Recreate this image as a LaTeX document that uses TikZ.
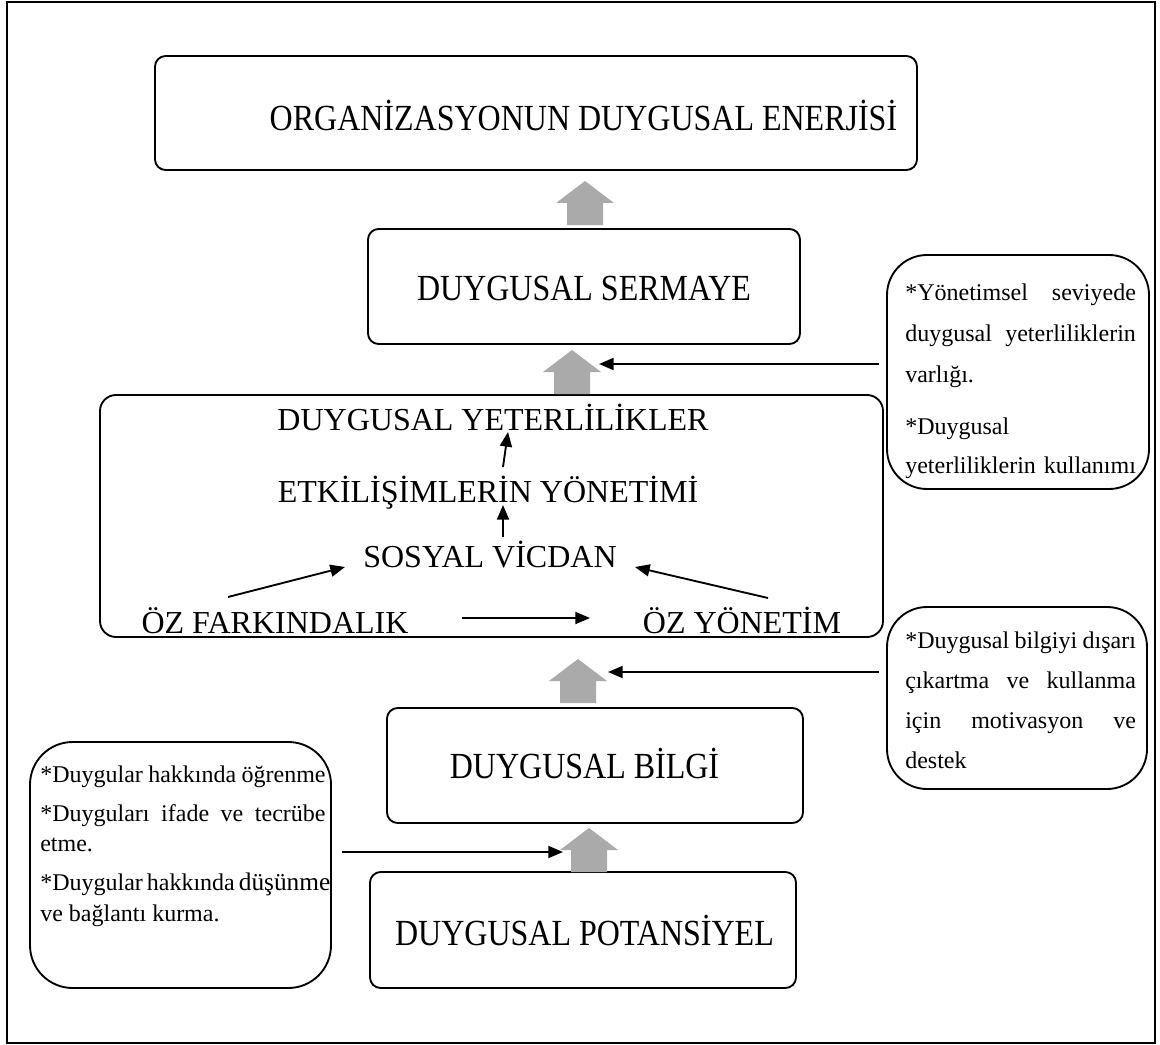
\documentclass[tikz,border=0pt]{standalone}
\usepackage{fontspec}
\usepackage{graphicx}
\setmainfont{Liberation Serif}
\usetikzlibrary{arrows.meta}

\definecolor{arrowgray}{RGB}{170,170,170}

% level titles are set slightly taller than wide
\newcommand\tallcaps[1]{\scalebox{1}[1.15]{#1}}

\tikzset{
  frame/.style={draw, line width=1.5pt},
  box/.style={draw, line width=1.4pt, rounded corners=8pt, inner sep=0pt, outer sep=0pt},
  label/.style={font=\fontsize{24}{26}\selectfont, inner sep=0pt, anchor=base},
  sidetext/.style={font=\fontsize{18}{22}\selectfont, inner sep=0pt, anchor=base west},
  conn/.style={line width=1.4pt, -{Triangle[length=11pt,width=9pt]}},
  grayup/.pic={\fill[arrowgray] (0,0) -- (29,22) -- (18,22) -- (18,44) -- (-18,44) -- (-18,22) -- (-29,22) -- cycle;}
}

\begin{document}
\begin{tikzpicture}[x=0.75pt,y=-0.75pt]
\useasboundingbox (0,0) rectangle (1160,1045);
\draw[frame] (7,2) rectangle (1155,1043);

% main stack of boxes
\node[box, minimum width=571.5pt, minimum height=85.5pt] (org) at (536,113) {};
\node[label] (orgt) at (583.5,131) {\tallcaps{ORGANİZASYONUN DUYGUSAL ENERJİSİ}};

\node[box, minimum width=324pt, minimum height=86.25pt] (serm) at (584,286.5) {};
\node[label] (sermt) at (584,300) {\tallcaps{DUYGUSAL SERMAYE}};

\node[box, rounded corners=12pt, minimum width=587.25pt, minimum height=181.5pt] (comp) at (491.5,516) {};
\node[label] (dy) at (493,430) {DUYGUSAL YETERLİLİKLER};
\node[label] (etk) at (488,502) {ETKİLİŞİMLERİN YÖNETİMİ};
\node[label] (sv) at (490,567) {SOSYAL VİCDAN};
\node[label] (ozf) at (275,633) {ÖZ FARKINDALIK};
\node[label] (ozy) at (742,633) {ÖZ YÖNETİM};

\node[box, minimum width=312pt, minimum height=86.25pt] (bilgi) at (595,765.5) {};
\node[label] (bilgit) at (584.5,778) {\tallcaps{DUYGUSAL BİLGİ}};

\node[box, minimum width=319.5pt, minimum height=87pt] (pot) at (583,930) {};
\node[label] (pott) at (584.5,945) {\tallcaps{DUYGUSAL POTANSİYEL}};

% upward block arrows between the levels
\pic at (585,181) {grayup};
\pic at (572,350) {grayup};
\pic at (578,659) {grayup};
\pic at (589,828) {grayup};

% side notes
\node[box, rounded corners=30pt, minimum width=196.5pt, minimum height=175.5pt] (r1) at (1018,372) {};
\node[sidetext] (r1t) at (905,300) {\parbox[t]{173pt}{\fontsize{18}{31}\selectfont
  \makebox[\linewidth][s]{*Yönetimsel seviyede}\\
  \makebox[\linewidth][s]{duygusal yeterliliklerin}\\
  varlığı.\\[8pt]
  *Duygusal\\[-2pt]
  \makebox[\linewidth][s]{yeterliliklerin kullanımı}}};

\node[box, rounded corners=30pt, minimum width=195pt, minimum height=136.5pt] (r2) at (1017,698) {};
\node[sidetext] (r2t) at (905,648) {\parbox[t]{173pt}{\fontsize{18}{30}\selectfont
  \makebox[\linewidth][s]{*Duygusal bilgiyi dışarı}\\
  \makebox[\linewidth][s]{çıkartma ve kullanma}\\
  \makebox[\linewidth][s]{için motivasyon ve}\\
  destek}};

\node[box, rounded corners=32pt, minimum width=225.75pt, minimum height=184.5pt] (lft) at (180.5,865) {};
\node[sidetext] (lftt) at (40,782) {\parbox[t]{214pt}{\fontsize{18}{22.5}\selectfont
  \makebox[\linewidth][s]{*Duygular hakkında öğrenme}\\[6.75pt]
  \makebox[\linewidth][s]{*Duyguları ifade ve tecrübe}\\
  etme.\\[6.75pt]
  \makebox[\linewidth][s]{*Duygular hakkında {\fontsize{19}{19}\selectfont düşünme}}\\[0.75pt]
  ve bağlantı kurma.}};

% connector end points
\coordinate (in2) at (599,364);
\coordinate (in3) at (608,672);
\coordinate (in4) at (563,852);
\coordinate (etkTop) at (508,432);
\coordinate (etkBot) at (503,467);
\coordinate (svTop) at (503,505);
\coordinate (svBot) at (503,537);
\coordinate (ozfOut) at (228,597);
\coordinate (svLeft) at (345,567);
\coordinate (ozyOut) at (768,598);
\coordinate (svRight) at (635,567);
\coordinate (ozfRight) at (462,618);
\coordinate (ozyLeft) at (590,618);

% connectors from the side notes
\draw[conn, shorten <=6pt] (r1.west |- in2) -- (in2);
\draw[conn, shorten <=6pt] (r2.west |- in3) -- (in3);
\draw[conn, shorten <=8pt] (lft.east |- in4) -- (in4);

% links between the competences
\draw[conn] (etkBot) -- (etkTop);
\draw[conn] (svBot) -- (svTop);
\draw[conn] (ozfOut) -- (svLeft);
\draw[conn] (ozyOut) -- (svRight);
\draw[conn] (ozfRight) -- (ozyLeft);
\end{tikzpicture}
\end{document}
